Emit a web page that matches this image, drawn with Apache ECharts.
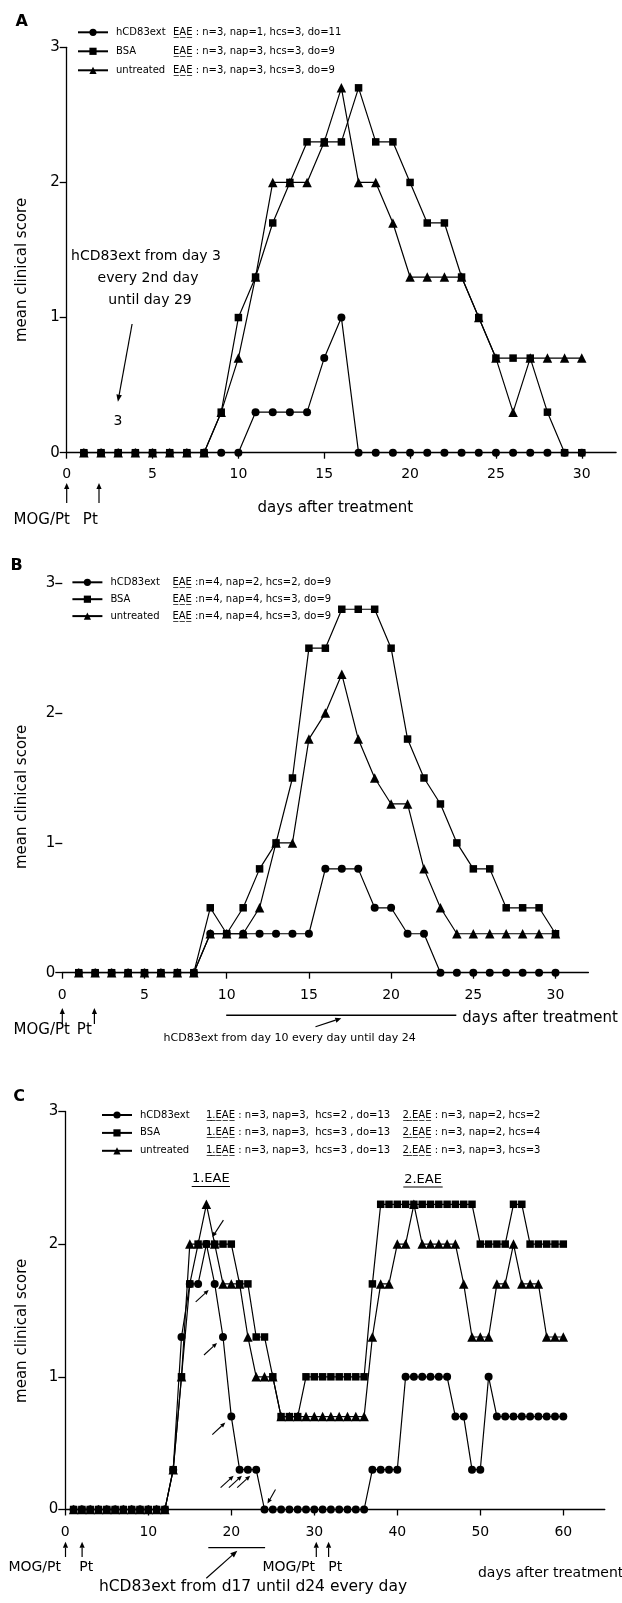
<!DOCTYPE html>
<html><head><meta charset="utf-8">
<script src="https://cdn.jsdelivr.net/npm/echarts@6/dist/echarts.min.js"></script>
<style>html,body{margin:0;padding:0;background:#fff}#c{width:622px;height:1603px}</style>
</head><body><div id="c"></div>
<script>
// ---------- data ----------
const seriesNames = ['hCD83ext', 'BSA', 'untreated'];
const yTicks = [0, 1, 2, 3];
const xTicksAB = [0, 5, 10, 15, 20, 25, 30];
const xTicksC = [0, 10, 20, 30, 40, 50, 60];

const daysAB = [1,2,3,4,5,6,7,8,9,10,11,12,13,14,15,16,17,18,19,20,21,22,23,24,25,26,27,28,29,30];
const daysC = [1,2,3,4,5,6,7,8,9,10,11,12,13,14,15,16,17,18,19,20,21,22,23,24,25,26,27,28,29,30,
               31,32,33,34,35,36,37,38,39,40,41,42,43,44,45,46,47,48,49,50,51,52,53,54,55,56,57,58,59,60];

const A_hcd83 = [0,0,0,0,0,0,0,0,0,0,0.3,0.3,0.3,0.3,0.7,1.0,0,0,0,0,0,0,0,0,0,0,0,0,0,0];
const A_bsa   = [0,0,0,0,0,0,0,0,0.3,1.0,1.3,1.7,2.0,2.3,2.3,2.3,2.7,2.3,2.3,2.0,1.7,1.7,1.3,1.0,0.7,0.7,0.7,0.3,0,0];
const A_untr  = [0,0,0,0,0,0,0,0,0.3,0.7,1.3,2.0,2.0,2.0,2.3,2.7,2.0,2.0,1.7,1.3,1.3,1.3,1.3,1.0,0.7,0.3,0.7,0.7,0.7,0.7];

const B_hcd83 = [0,0,0,0,0,0,0,0,0.3,0.3,0.3,0.3,0.3,0.3,0.3,0.8,0.8,0.8,0.5,0.5,0.3,0.3,0,0,0,0,0,0,0,0];
const B_bsa   = [0,0,0,0,0,0,0,0,0.5,0.3,0.5,0.8,1.0,1.5,2.5,2.5,2.8,2.8,2.8,2.5,1.8,1.5,1.3,1.0,0.8,0.8,0.5,0.5,0.5,0.3];
const B_untr  = [0,0,0,0,0,0,0,0,0.3,0.3,0.3,0.5,1.0,1.0,1.8,2.0,2.3,1.8,1.5,1.3,1.3,0.8,0.5,0.3,0.3,0.3,0.3,0.3,0.3,0.3];

const C_hcd83 = [0,0,0,0,0,0,0,0,0,0,0,0,0.3,1.3,1.7,1.7,2.0,1.7,1.3,0.7,0.3,0.3,0.3,0,0,0,0,0,0,0,
                 0,0,0,0,0,0,0.3,0.3,0.3,0.3,1.0,1.0,1.0,1.0,1.0,1.0,0.7,0.7,0.3,0.3,1.0,0.7,0.7,0.7,0.7,0.7,0.7,0.7,0.7,0.7];
const C_bsa   = [0,0,0,0,0,0,0,0,0,0,0,0,0.3,1.0,1.7,2.0,2.0,2.0,2.0,2.0,1.7,1.7,1.3,1.3,1.0,0.7,0.7,0.7,1.0,1.0,
                 1.0,1.0,1.0,1.0,1.0,1.0,1.7,2.3,2.3,2.3,2.3,2.3,2.3,2.3,2.3,2.3,2.3,2.3,2.3,2.0,2.0,2.0,2.0,2.3,2.3,2.0,2.0,2.0,2.0,2.0];
const C_untr  = [0,0,0,0,0,0,0,0,0,0,0,0,0.3,1.0,2.0,2.0,2.3,2.0,1.7,1.7,1.7,1.3,1.0,1.0,1.0,0.7,0.7,0.7,0.7,0.7,
                 0.7,0.7,0.7,0.7,0.7,0.7,1.3,1.7,1.7,2.0,2.0,2.3,2.0,2.0,2.0,2.0,2.0,1.7,1.3,1.3,1.3,1.7,1.7,2.0,1.7,1.7,1.7,1.3,1.3,1.3];

const A_stats = ['n=3, nap=1, hcs=3, do=11', 'n=3, nap=3, hcs=3, do=9', 'n=3, nap=3, hcs=3, do=9'];
const B_stats = ['n=4, nap=2, hcs=2, do=9', 'n=4, nap=4, hcs=3, do=9', 'n=4, nap=4, hcs=3, do=9'];
const C_stats1 = ['n=3, nap=3,  hcs=2 , do=13', 'n=3, nap=3,  hcs=3 , do=13', 'n=3, nap=3,  hcs=3 , do=13'];
const C_stats2 = ['n=3, nap=2, hcs=2', 'n=3, nap=2, hcs=4', 'n=3, nap=3, hcs=3'];
const injectionDaysC = [17, 18, 19, 20, 21, 22, 23, 24];

// ---------- chart ----------
const FONT = 'DejaVu Sans';
const symbols = ['circle', 'rect', 'triangle'];
const symSizes = [8, 7.5, 9.5];
const U = s => s.split('').map(c => c + '\u0332').join('');

function mkSeries(name, idx, days, vals, grid) {
  return {
    type: 'line', name, xAxisIndex: grid, yAxisIndex: grid,
    data: days.map((d, i) => [d, vals[i]]),
    symbol: symbols[idx], symbolSize: symSizes[idx],
    lineStyle: { color: '#000', width: 1.2 },
    itemStyle: { color: '#000' },
    z: 3 + idx
  };
}

function xAxis(grid, max, ticks, margin) {
  return {
    type: 'value', gridIndex: grid, min: 0, max,
    splitLine: { show: false },
    axisLine: { show: true, lineStyle: { color: '#000', width: 1.3 } },
    axisTick: { show: true, length: 6, lineStyle: { color: '#000', width: 1.3 }, customValues: ticks },
    axisLabel: { customValues: ticks, color: '#000', fontFamily: FONT, fontSize: 14, margin }
  };
}
function yAxis(grid, showLine) {
  return {
    type: 'value', gridIndex: grid, min: 0, max: 3,
    splitLine: { show: false },
    axisLine: { show: showLine, lineStyle: { color: '#000', width: 1.3 } },
    axisTick: { show: true, length: 7, lineStyle: { color: '#000', width: 1.3 }, customValues: yTicks },
    axisLabel: { customValues: yTicks, color: '#000', fontFamily: FONT, fontSize: 15, margin: 7 }
  };
}

function legend(left, top, gap, fmt, nameW, extraRich) {
  return {
    orient: 'vertical', left, top, padding: 0, itemGap: gap,
    itemWidth: 30, itemHeight: 9, selectedMode: false,
    data: seriesNames,
    formatter: fmt,
    textStyle: {
      fontFamily: FONT, fontSize: 10, color: '#000', lineHeight: 12,
      rich: Object.assign({
        n: { width: nameW, fontFamily: FONT, fontSize: 10, color: '#000', lineHeight: 12, padding: [0, 0, 0, 3] },
        e: { fontFamily: FONT, fontSize: 10, color: '#000', lineHeight: 12 },
        t: { fontFamily: FONT, fontSize: 10, color: '#000', lineHeight: 12 }
      }, extraRich || {})
    }
  };
}

const option = {
  animation: false,
  backgroundColor: '#fff',
  grid: [
    { left: 66.7, top: 47.3, width: 549.4, height: 405.4 },
    { left: 62.3, top: 583.3, width: 526.1, height: 389.4 },
    { left: 65.3, top: 1111.4, width: 539.5, height: 398.1 }
  ],
  xAxis: [xAxis(0, 32, xTicksAB, 15), xAxis(1, 32, xTicksAB, 16), xAxis(2, 65, xTicksC, 16)],
  yAxis: [yAxis(0, true), yAxis(1, false), yAxis(2, true)],
  legend: [
    legend(77, 26.3, 7, n => `{n|${n}}{e|${U('EAE')}}{t| : ${A_stats[seriesNames.indexOf(n)]}}`, 57),
    legend(71.4, 576.3, 4.9, n => `{n|${n}}{e|${U('EAE')}}{t| :${B_stats[seriesNames.indexOf(n)]}}`, 62),
    legend(101, 1109, 5.9, n => {
      const i = seriesNames.indexOf(n);
      return `{n|${n}}{f|${U('1.EAE')} : ${C_stats1[i]}}{e|${U('2.EAE')}}{t| : ${C_stats2[i]}}`;
    }, 66, { f: { width: 196.5, fontFamily: FONT, fontSize: 10, color: '#000', lineHeight: 12 } })
  ],
  series: [
    mkSeries('hCD83ext', 0, daysAB, A_hcd83, 0),
    mkSeries('BSA', 1, daysAB, A_bsa, 0),
    mkSeries('untreated', 2, daysAB, A_untr, 0),
    mkSeries('hCD83ext', 0, daysAB, B_hcd83, 1),
    mkSeries('BSA', 1, daysAB, B_bsa, 1),
    mkSeries('untreated', 2, daysAB, B_untr, 1),
    mkSeries('hCD83ext', 0, daysC, C_hcd83, 2),
    mkSeries('BSA', 1, daysC, C_bsa, 2),
    mkSeries('untreated', 2, daysC, C_untr, 2)
  ]
};

const chart = echarts.init(document.getElementById('c'), null, { renderer: 'canvas', width: 622, height: 1603 });
chart.setOption(option);

// ---------- annotations ----------
const g = [];
function txt(x, y, text, size, o) {
  o = o || {};
  const al = o.align || 'center';
  g.push({ type: 'text', x, y, rotation: o.rot || 0, z: 100,
    style: { text, font: (o.bold ? 'bold ' : '') + size + 'px "' + FONT + '"', fill: '#000',
      align: al, textAlign: al, verticalAlign: 'middle', textVerticalAlign: 'middle' } });
}
function seg(x1, y1, x2, y2, w) {
  g.push({ type: 'line', z: 100, shape: { x1, y1, x2, y2 }, style: { stroke: '#000', lineWidth: w || 1.2 } });
}
function arrow(x1, y1, x2, y2, head, half, w) {
  head = head || 6; half = half || 2.6;
  const dx = x2 - x1, dy = y2 - y1, L = Math.hypot(dx, dy), ux = dx / L, uy = dy / L;
  const bx = x2 - ux * head, by = y2 - uy * head;
  seg(x1, y1, bx, by, w || 1.2);
  g.push({ type: 'polygon', z: 100, shape: { points: [[x2, y2], [bx - uy * half, by + ux * half], [bx + uy * half, by - ux * half]] }, style: { fill: '#000' } });
}

// Panel A
txt(21.8, 21.7, 'A', 16, { bold: true });
txt(21.8, 270, 'mean clinical score', 15, { rot: Math.PI / 2 });
txt(146, 256.7, 'hCD83ext from day 3', 14);
txt(148, 278.3, 'every 2nd day', 14);
txt(150, 300.7, 'until day 29', 14);
arrow(132.1, 324, 117.9, 401.7, 7, 2.8);
txt(117.9, 421.7, '3', 14);
txt(335.3, 508.3, 'days after treatment', 15);
arrow(66.7, 503, 66.7, 483, 6, 2.6);
arrow(99, 503, 99, 483, 6, 2.6);
txt(41.7, 520, 'MOG/Pt', 15);
txt(90.3, 520, 'Pt', 15);

// Panel B
txt(16.7, 566, 'B', 16, { bold: true });
txt(21.8, 797, 'mean clinical score', 15, { rot: Math.PI / 2 });
seg(226.2, 1015.3, 456.3, 1015.3, 1.5);
txt(462.3, 1018.3, 'days after treatment', 15, { align: 'left' });
arrow(315.5, 1026.7, 341.3, 1018.3, 6, 2.6);
txt(289.7, 1038.3, 'hCD83ext from day 10 every day until day 24', 11);
arrow(62.3, 1024, 62.3, 1008, 6, 2.6);
arrow(94.4, 1024, 94.4, 1008, 6, 2.6);
txt(41.7, 1030, 'MOG/Pt', 15);
txt(84.3, 1030, 'Pt', 15);

// Panel C
txt(19, 1096.7, 'C', 16, { bold: true });
txt(21.8, 1330.8, 'mean clinical score', 15, { rot: Math.PI / 2 });
txt(210.8, 1178.3, '1.EAE', 13);
seg(191.7, 1186.5, 230, 1186.5, 1.2);
txt(423, 1179.3, '2.EAE', 13);
seg(403.3, 1187, 442.7, 1187, 1.2);
seg(208.3, 1547.7, 265.1, 1547.7, 1.2);
arrow(206.3, 1578.3, 237.3, 1550.7, 7, 2.8);
txt(253, 1587, 'hCD83ext from d17 until d24 every day', 15.5);
arrow(65.5, 1557, 65.5, 1541.7, 6, 2.6);
arrow(82.1, 1557, 82.1, 1541.7, 6, 2.6);
txt(34.7, 1567, 'MOG/Pt', 14);
txt(86.3, 1567, 'Pt', 14);
arrow(316.3, 1557, 316.3, 1541.7, 6, 2.6);
arrow(328.6, 1557, 328.6, 1541.7, 6, 2.6);
txt(288.7, 1567, 'MOG/Pt', 14);
txt(335.3, 1567, 'Pt', 14);
txt(550.6, 1573.3, 'days after treatment', 14);

// small arrows marking hCD83ext injections in panel C
injectionDaysC.forEach(d => {
  const v = C_hcd83[daysC.indexOf(d)];
  const p = chart.convertToPixel({ gridIndex: 2 }, [d, v]);
  if (d === injectionDaysC[0]) arrow(p[0] + 17, p[1] - 24, p[0] + 6, p[1] - 7, 5, 2.2, 1.1);
  else if (d === injectionDaysC[injectionDaysC.length - 1]) arrow(p[0] + 11, p[1] - 20, p[0] + 3, p[1] - 6, 5, 2.2, 1.1);
  else arrow(p[0] - 19, p[1] + 18, p[0] - 6, p[1] + 6, 5, 2.2, 1.1);
});

chart.setOption({ graphic: { elements: g } });
</script>
</body></html>
